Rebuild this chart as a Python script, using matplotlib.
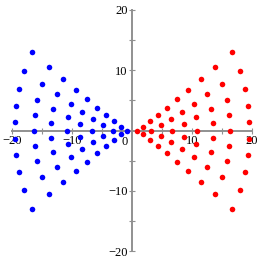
import matplotlib
matplotlib.use('Agg')
import matplotlib.pyplot as plt

# point positions (upper half, axis row, lower half)
red_x = [16.7,
         13.9, 18.0,
         11.5, 15.05, 18.85,
         9.4, 12.55, 15.8, 19.35,
         7.55, 10.25, 13.2, 16.2, 19.55,
         5.85, 8.3, 10.65, 13.45,
         4.35, 6.45, 8.7,
         3.0, 4.8,
         1.8,
         0.8, 3.2, 6.6, 10.9, 16.3,
         1.8,
         3.0, 4.8,
         4.35, 6.45, 8.7,
         5.85, 8.3, 10.65, 13.45,
         7.55, 10.25, 13.2, 16.2, 19.55,
         9.4, 12.55, 15.8, 19.35,
         11.5, 15.05, 18.85,
         13.9, 18.0,
         16.7]
red_y = [13.0,
         10.55, 9.8,
         8.55, 7.75, 6.85,
         6.8, 6.0, 5.05, 4.05,
         5.2, 4.4, 3.55, 2.55, 1.4,
         3.8, 3.05, 2.2, 1.2,
         2.6, 1.9, 1.1,
         1.5, 0.9,
         0.65,
         0.0, 0.0, 0.0, 0.0, 0.0,
         -0.65,
         -1.5, -0.9,
         -2.6, -1.9, -1.1,
         -3.8, -3.05, -2.2, -1.2,
         -5.2, -4.4, -3.55, -2.55, -1.4,
         -6.8, -6.0, -5.05, -4.05,
         -8.55, -7.75, -6.85,
         -10.55, -9.8,
         -13.0]

blue_x = [-16.7,
          -13.9, -18.0,
          -11.5, -15.05, -18.85,
          -9.4, -12.55, -15.8, -19.35,
          -7.55, -10.25, -13.2, -16.2, -19.55,
          -5.85, -8.3, -10.65, -13.45,
          -4.35, -6.45, -8.7,
          -3.0, -4.8,
          -1.8,
          -0.8, -3.2, -6.6, -10.9, -16.3,
          -1.8,
          -3.0, -4.8,
          -4.35, -6.45, -8.7,
          -5.85, -8.3, -10.65, -13.45,
          -7.55, -10.25, -13.2, -16.2, -19.55,
          -9.4, -12.55, -15.8, -19.35,
          -11.5, -15.05, -18.85,
          -13.9, -18.0,
          -16.7]
blue_y = list(red_y)

x_ticks = [-20, -10, 10, 20]
y_ticks = [-20, -10, 10, 20]
minor_ticks = [-15, -5, 5, 15]

plt.rcParams['font.family'] = ['Liberation Serif', 'DejaVu Serif']

fig = plt.figure(figsize=(2.62, 2.62), dpi=100)
ax = fig.add_axes([12/262, 11/262, 240/262, 241/262])

ax.scatter(red_x, red_y, s=16, color='#ff0000', linewidths=0, zorder=3)
ax.scatter(blue_x, blue_y, s=16, color='#0000ff', linewidths=0, zorder=3)

ax.set_xlim(-20, 20)
ax.set_ylim(-20, 20)

for s in ['top', 'right']:
    ax.spines[s].set_visible(False)
for s in ['left', 'bottom']:
    ax.spines[s].set_position(('data', 0))
    ax.spines[s].set_color('#909090')
    ax.spines[s].set_linewidth(1.4)

ax.set_xticks(x_ticks)
ax.set_yticks(y_ticks)
ax.set_xticks(minor_ticks, minor=True)
ax.set_yticks(minor_ticks, minor=True)
ax.set_xticklabels([str(v).replace('-', '\u2212') for v in x_ticks])
ax.set_yticklabels([str(v).replace('-', '\u2212') for v in y_ticks])
ax.tick_params(which='both', direction='inout', length=4, width=0.8,
               color='#909090', labelsize=9, pad=1)
ax.text(-0.7, -0.9, '0', ha='right', va='top', fontsize=9)

ax.patch.set_visible(False)
fig.savefig('out.png', dpi=100)
